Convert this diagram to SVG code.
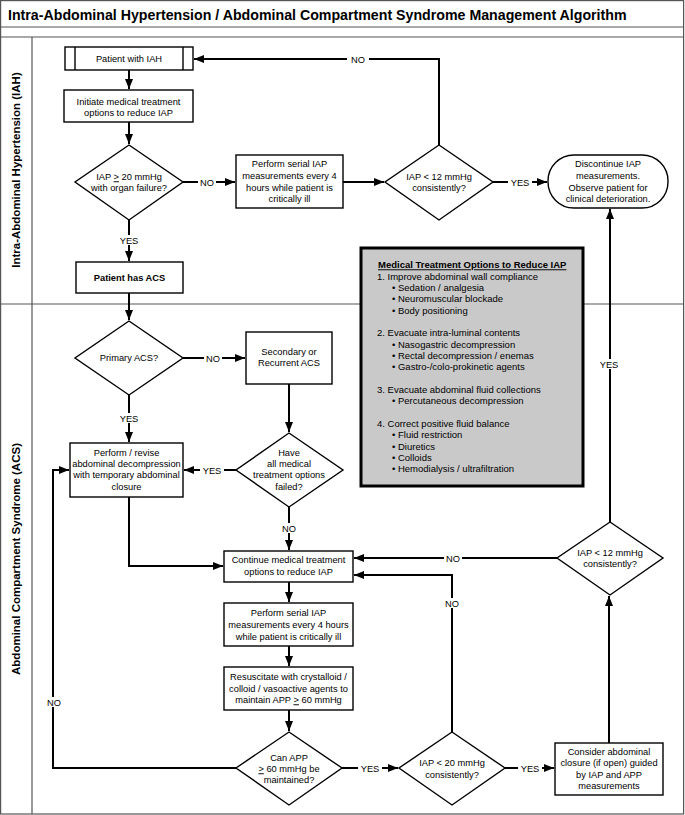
<svg xmlns="http://www.w3.org/2000/svg" width="685" height="815" viewBox="0 0 685 815">
<defs>
<marker id="ah" markerUnits="userSpaceOnUse" markerWidth="10" markerHeight="8" viewBox="0 0 10 8" refX="10" refY="4" orient="auto">
<path d="M0,0 L10,4 L0,8 Z" fill="#000"/>
</marker>
</defs>
<style>
text{font-family:"Liberation Sans",Arial,sans-serif;fill:#000}
.t{font-size:9.3px;text-anchor:middle}
.lbl{font-size:9.3px;text-anchor:middle}
.box{fill:#fff;stroke:#000;stroke-width:1.4}
.c{fill:none;stroke:#000;stroke-width:2}
.frame{fill:none;stroke:#555;stroke-width:1.2}
.lane{font-size:11.5px;font-weight:bold;text-anchor:middle}
.m{font-size:9.5px}
.bg{fill:#fff}
</style>
<rect x="0" y="0" width="685" height="815" fill="#fff"/>
<g id="frame">
<rect class="frame" x="0.6" y="0.6" width="683" height="813.4"/>
<line class="frame" x1="0" y1="27" x2="684" y2="27"/>
<line class="frame" x1="0" y1="37" x2="684" y2="37"/>
<line class="frame" x1="0" y1="304" x2="684" y2="304"/>
<line class="frame" x1="32" y1="37" x2="32" y2="814"/>
<text x="8" y="20" font-size="14.2" font-weight="bold">Intra-Abdominal Hypertension / Abdominal Compartment Syndrome Management Algorithm</text>
<text class="lane" transform="translate(20,170) rotate(-90)">Intra-Abdominal Hypertension (IAH)</text>
<text class="lane" transform="translate(20,559) rotate(-90)">Abdominal Compartment Syndrome (ACS)</text>
</g>
<g id="connectors">
<path class="c" d="M129,70 V89" marker-end="url(#ah)"/>
<path class="c" d="M129,122 V144" marker-end="url(#ah)"/>
<path class="c" d="M183,182 H235" marker-end="url(#ah)"/>
<path class="c" d="M343,182 H384" marker-end="url(#ah)"/>
<path class="c" d="M439,145 V59 H194" marker-end="url(#ah)"/>
<path class="c" d="M493,182 H547" marker-end="url(#ah)"/>
<path class="c" d="M129,220 V261" marker-end="url(#ah)"/>
<path class="c" d="M129,293 V320" marker-end="url(#ah)"/>
<path class="c" d="M183,358 H245" marker-end="url(#ah)"/>
<path class="c" d="M129,395 V442" marker-end="url(#ah)"/>
<path class="c" d="M289,384 V432" marker-end="url(#ah)"/>
<path class="c" d="M236,470 H184" marker-end="url(#ah)"/>
<path class="c" d="M289,507 V550" marker-end="url(#ah)"/>
<path class="c" d="M129,497 V566 H223" marker-end="url(#ah)"/>
<path class="c" d="M289,582 V602" marker-end="url(#ah)"/>
<path class="c" d="M289,646 V666" marker-end="url(#ah)"/>
<path class="c" d="M289,710 V731" marker-end="url(#ah)"/>
<path class="c" d="M236,768 H53 V470 H69" marker-end="url(#ah)"/>
<path class="c" d="M342,768 H398" marker-end="url(#ah)"/>
<path class="c" d="M505,768 H554" marker-end="url(#ah)"/>
<path class="c" d="M452,732 V575 H354" marker-end="url(#ah)"/>
<path class="c" d="M609,743 V596" marker-end="url(#ah)"/>
<path class="c" d="M557,558 H354" marker-end="url(#ah)"/>
<path class="c" d="M610,522 V209" marker-end="url(#ah)"/>
<g id="labels">
<rect class="bg" x="347" y="54" width="22" height="10"/><text class="lbl" x="358" y="62.5">NO</text>
<rect class="bg" x="198" y="177" width="18" height="10"/><text class="lbl" x="207" y="185.5">NO</text>
<rect class="bg" x="508" y="177" width="24" height="10"/><text class="lbl" x="520" y="185.5">YES</text>
<rect class="bg" x="117" y="235" width="24" height="10"/><text class="lbl" x="129" y="243.5">YES</text>
<rect class="bg" x="204" y="353" width="18" height="10"/><text class="lbl" x="213" y="361.5">NO</text>
<rect class="bg" x="117" y="413" width="24" height="10"/><text class="lbl" x="129" y="421.5">YES</text>
<rect class="bg" x="200" y="465" width="24" height="10"/><text class="lbl" x="212" y="473.5">YES</text>
<rect class="bg" x="280" y="523" width="18" height="10"/><text class="lbl" x="289" y="531.5">NO</text>
<rect class="bg" x="45" y="697" width="18" height="10"/><text class="lbl" x="54" y="705.5">NO</text>
<rect class="bg" x="358" y="763" width="24" height="10"/><text class="lbl" x="370" y="771.5">YES</text>
<rect class="bg" x="518" y="763" width="24" height="10"/><text class="lbl" x="530" y="771.5">YES</text>
<rect class="bg" x="443" y="598" width="18" height="10"/><text class="lbl" x="452" y="606.5">NO</text>
<rect class="bg" x="444" y="553" width="18" height="10"/><text class="lbl" x="453" y="561.5">NO</text>
<rect class="bg" x="598" y="359" width="24" height="10"/><text class="lbl" x="609" y="367.5">YES</text>
</g>
</g>
<g id="patient-iah">
<rect class="box" x="65" y="47" width="128" height="23"/>
<line x1="75" y1="47" x2="75" y2="70" stroke="#000" stroke-width="1.4"/>
<line x1="183" y1="47" x2="183" y2="70" stroke="#000" stroke-width="1.4"/>
<text class="t" x="129" y="61.8">Patient with IAH</text>
</g>
<g id="initiate">
<rect class="box" x="64" y="90" width="129" height="32"/>
<text class="t" x="128.5" y="105.3">Initiate medical treatment</text>
<text class="t" x="128.5" y="116.3">options to reduce IAP</text>
</g>
<g id="d-iap20">
<polygon class="box" points="129,145 183,182 129,220 75,182"/>
<text class="t" x="129" y="180.3">IAP <tspan text-decoration="underline">&gt;</tspan> 20 mmHg</text>
<text class="t" x="129" y="191.3">with organ failure?</text>
</g>
<g id="serial1">
<rect class="box" x="236" y="155" width="107" height="53"/>
<text class="t" x="289.5" y="167.3">Perform serial IAP</text>
<text class="t" x="289.5" y="179.3">measurements every 4</text>
<text class="t" x="289.5" y="191.3">hours while patient is</text>
<text class="t" x="289.5" y="202.3">critically ill</text>
</g>
<g id="d-iap12a">
<polygon class="box" points="439,145 493,182 439,220 385,182"/>
<text class="t" x="439" y="180.3">IAP &lt; 12 mmHg</text>
<text class="t" x="439" y="191.3">consistently?</text>
</g>
<g id="discontinue">
<rect class="box" x="548" y="155" width="120" height="53" rx="26" ry="26"/>
<text class="t" x="608" y="167.3">Discontinue IAP</text>
<text class="t" x="608" y="179.3">measurements.</text>
<text class="t" x="608" y="191.3">Observe patient for</text>
<text class="t" x="608" y="202.3">clinical deterioration.</text>
</g>
<g id="patient-acs">
<rect class="box" x="76" y="262" width="107" height="31"/>
<text class="t" x="129.5" y="281" font-weight="bold">Patient has ACS</text>
</g>
<g id="d-primary">
<polygon class="box" points="129,321 183,358 129,395 75,358"/>
<text class="t" x="129" y="361.3">Primary ACS?</text>
</g>
<g id="secondary">
<rect class="box" x="246" y="332" width="86" height="52"/>
<text class="t" x="289" y="355.3">Secondary or</text>
<text class="t" x="289" y="366.3">Recurrent ACS</text>
</g>
<g id="d-failed">
<polygon class="box" points="289,433 343,470 289,507 236,470"/>
<text class="t" x="289" y="456.3">Have</text>
<text class="t" x="289" y="467.3">all medical</text>
<text class="t" x="289" y="478.3">treatment options</text>
<text class="t" x="289" y="490.3">failed?</text>
</g>
<g id="decompression">
<rect class="box" x="70" y="443" width="113" height="54"/>
<text class="t" x="126.5" y="456.3">Perform / revise</text>
<text class="t" x="126.5" y="467.3">abdominal decompression</text>
<text class="t" x="126.5" y="478.3">with temporary abdominal</text>
<text class="t" x="126.5" y="490.3">closure</text>
</g>
<g id="continue">
<rect class="box" x="224" y="551" width="129" height="31"/>
<text class="t" x="288.5" y="563.3">Continue medical treatment</text>
<text class="t" x="288.5" y="575.3">options to reduce IAP</text>
</g>
<g id="serial2">
<rect class="box" x="224" y="603" width="129" height="43"/>
<text class="t" x="288.5" y="616.3">Perform serial IAP</text>
<text class="t" x="288.5" y="628.3">measurements every 4 hours</text>
<text class="t" x="288.5" y="640.3">while patient is critically ill</text>
</g>
<g id="resuscitate">
<rect class="box" x="224" y="667" width="129" height="43"/>
<text class="t" x="288.5" y="680.3">Resuscitate with crystalloid /</text>
<text class="t" x="288.5" y="692.3">colloid / vasoactive agents to</text>
<text class="t" x="288.5" y="703.3">maintain APP <tspan text-decoration="underline">&gt;</tspan> 60 mmHg</text>
</g>
<g id="d-app">
<polygon class="box" points="289,732 342,768 289,805 236,768"/>
<text class="t" x="289" y="761.3">Can APP</text>
<text class="t" x="289" y="772.3"><tspan text-decoration="underline">&gt;</tspan> 60 mmHg be</text>
<text class="t" x="289" y="783.3">maintained?</text>
</g>
<g id="d-iap20b">
<polygon class="box" points="452,732 505,768 452,805 399,768"/>
<text class="t" x="452" y="766.3">IAP &lt; 20 mmHg</text>
<text class="t" x="452" y="778.3">consistently?</text>
</g>
<g id="closure">
<rect class="box" x="555" y="743" width="108" height="52"/>
<text class="t" x="609" y="755.3">Consider abdominal</text>
<text class="t" x="609" y="766.3">closure (if open) guided</text>
<text class="t" x="609" y="778.3">by IAP and APP</text>
<text class="t" x="609" y="789.3">measurements</text>
</g>
<g id="d-iap12b">
<polygon class="box" points="610,522 663,558 610,595 557,558"/>
<text class="t" x="610" y="556.3">IAP &lt; 12 mmHg</text>
<text class="t" x="610" y="567.3">consistently?</text>
</g>
<g id="medical-options">
<rect x="361" y="248" width="222" height="238" fill="#c9c9c9" stroke="#000" stroke-width="3"/>
<text class="m" x="378" y="268.3" font-weight="bold" text-decoration="underline">Medical Treatment Options to Reduce IAP</text>
<text class="m" x="377" y="279.5">1. Improve abdominal wall compliance</text>
<text class="m" x="392" y="290.8">• Sedation / analgesia</text>
<text class="m" x="392" y="302.2">• Neuromuscular blockade</text>
<text class="m" x="392" y="313.5">• Body positioning</text>
<text class="m" x="377" y="336.3">2. Evacuate intra-luminal contents</text>
<text class="m" x="392" y="347.6">• Nasogastric decompression</text>
<text class="m" x="392" y="359">• Rectal decompression / enemas</text>
<text class="m" x="392" y="370.3">• Gastro-/colo-prokinetic agents</text>
<text class="m" x="377" y="392.7">3. Evacuate abdominal fluid collections</text>
<text class="m" x="392" y="404">• Percutaneous decompression</text>
<text class="m" x="377" y="427">4. Correct positive fluid balance</text>
<text class="m" x="392" y="438.3">• Fluid restriction</text>
<text class="m" x="392" y="449.7">• Diuretics</text>
<text class="m" x="392" y="461">• Colloids</text>
<text class="m" x="392" y="472.4">• Hemodialysis / ultrafiltration</text>
</g>
</svg>
